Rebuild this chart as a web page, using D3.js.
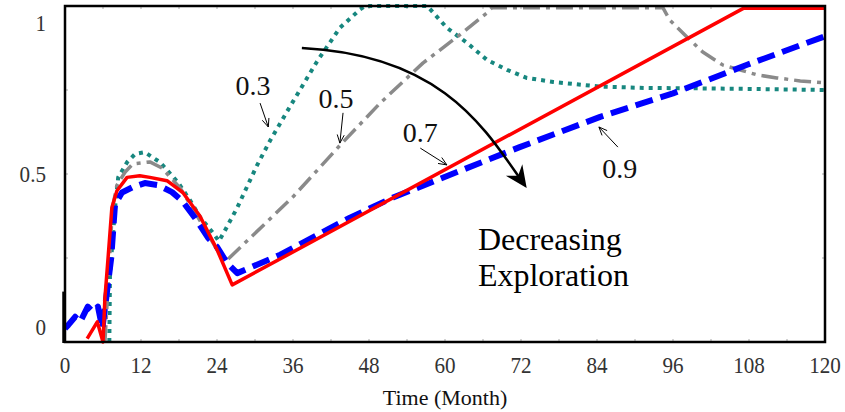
<!DOCTYPE html>
<html>
<head>
<meta charset="utf-8">
<script src="https://cdn.jsdelivr.net/npm/d3@7"></script>
<style>
  body { margin: 0; background: #fff; }
  svg { display: block; }
</style>
</head>
<body>
<svg id="chart" width="845" height="412"></svg>
<script>
// Exploration level 0.3 (teal dotted)
const exp03Months = [7.0, 7.1, 7.9, 8.4, 9.8, 11.1, 12.6, 15.0, 17.8, 19.7, 21.3, 23.4, 24.3, 25.2, 27.2, 30.3, 32.4, 35.5, 39.8, 43.4, 46.6, 47.4, 57.2, 60.3, 63.5, 66.6, 69.8, 72.9, 77.1, 84.5, 91.9, 99.8, 108.6, 120];
const exp03Values = [0.0, 0.2, 0.40, 0.49, 0.535, 0.56, 0.565, 0.535, 0.476, 0.423, 0.372, 0.324, 0.30, 0.33, 0.40, 0.525, 0.60, 0.70, 0.835, 0.935, 0.99, 1.0, 1.0, 0.935, 0.89, 0.84, 0.81, 0.786, 0.774, 0.76, 0.756, 0.755, 0.753, 0.75];

// Exploration level 0.5 (gray dash-dot)
const exp05Months = [6.3, 6.9, 7.5, 8.2, 9.5, 10.7, 13.4, 15.3, 18.2, 20.5, 22.9, 24.5, 25.6, 36.0, 43.4, 49.7, 56.5, 61.9, 66.6, 67.4, 94.4, 95.5, 98.2, 100.7, 103.9, 109.3, 112.4, 116.1, 120];
const exp05Values = [0.0, 0.2, 0.4, 0.467, 0.506, 0.53, 0.536, 0.518, 0.458, 0.387, 0.31, 0.259, 0.244, 0.432, 0.585, 0.71, 0.83, 0.908, 0.979, 0.995, 0.995, 0.958, 0.908, 0.863, 0.824, 0.795, 0.786, 0.777, 0.771];

// Exploration level 0.7 (red solid)
const exp07Months = [3.5, 5.1, 6.0, 6.3, 6.8, 7.4, 8.2, 9.8, 11.8, 13.4, 16.1, 18.6, 21.3, 24.0, 26.4, 107.1, 120];
const exp07Values = [0.01, 0.06, 0.0, 0.13, 0.25, 0.40, 0.45, 0.49, 0.495, 0.49, 0.48, 0.445, 0.375, 0.275, 0.17, 0.993, 0.993];

// Exploration level 0.9 (blue dashed)
const exp09Months = [0, 0.5, 1.6, 2.4, 3.6, 4.4, 5.2, 5.9, 6.5, 7.3, 7.9, 9.0, 10.6, 12.6, 14.7, 16.9, 18.5, 20.5, 22.6, 24.0, 25.6, 27.2, 34.0, 45.0, 51.8, 71.8, 84.5, 96.0, 107.7, 120];
const exp09Values = [0.04, 0.05, 0.075, 0.06, 0.105, 0.09, 0.105, 0.04, 0.13, 0.25, 0.41, 0.445, 0.46, 0.473, 0.467, 0.446, 0.42, 0.37, 0.31, 0.283, 0.235, 0.205, 0.26, 0.37, 0.43, 0.58, 0.67, 0.74, 0.825, 0.91];

// Axis labels and ticks
const monthTicks = [0, 12, 24, 36, 48, 60, 72, 84, 96, 108, 120];
const valueTicks = [0, 0.5, 1];
const xTitle = "Time (Month)";

// Series labels with pointer arrows (month, value)
const seriesLabels = ["0.3", "0.5", "0.7", "0.9"];
const labelAt = [[29.7, 0.765], [42.8, 0.726], [56.1, 0.625], [87.6, 0.518]];
const pointerFrom = [[30.8, 0.711], [43.9, 0.682], [56.1, 0.577], [87.3, 0.580]];
const pointerTo = [[32.1, 0.640], [43.4, 0.592], [60.3, 0.527], [84.3, 0.640]];

const trendText = ["Decreasing", "Exploration"];

const svg = d3.select("#chart");
const plotLeft = 65, plotRight = 825, plotTop = 6, plotBottom = 342;

const x = d3.scaleLinear().domain([0, 120]).range([plotLeft, plotRight]);
const y = d3.scaleLinear().domain([0, 1]).range([plotBottom, plotTop]);

const series = [
  { months: exp03Months, values: exp03Values, color: "#17877f", width: 4, dash: "4,5" },
  { months: exp05Months, values: exp05Values, color: "#8a8a8a", width: 3.5, dash: "17,6,4,6" },
  { months: exp09Months, values: exp09Values, color: "#0000ff", width: 6, dash: "18,8" },
  { months: exp07Months, values: exp07Values, color: "#ff0000", width: 3.5, dash: null }
];

const line = d3.line().x(d => x(d[0])).y(d => y(d[1])).curve(d3.curveLinear);

// plot background
svg.append("rect").attr("x", plotLeft).attr("y", plotTop)
  .attr("width", plotRight - plotLeft).attr("height", plotBottom - plotTop).attr("fill", "#fff");

// small inside tick marks every 6 months and every 0.25
const minorMonths = d3.range(6, 120, 6);
const minorValues = [0.25, 0.5, 0.75];
const tickG = svg.append("g").attr("stroke", "#b8b8b8").attr("stroke-width", 1.2);
minorMonths.forEach(m => {
  tickG.append("line").attr("x1", x(m)).attr("x2", x(m)).attr("y1", plotBottom).attr("y2", plotBottom - 3);
  tickG.append("line").attr("x1", x(m)).attr("x2", x(m)).attr("y1", plotTop).attr("y2", plotTop + 3);
});
minorValues.forEach(v => {
  tickG.append("line").attr("x1", plotLeft).attr("x2", plotLeft + 3).attr("y1", y(v)).attr("y2", y(v));
  tickG.append("line").attr("x1", plotRight).attr("x2", plotRight - 3).attr("y1", y(v)).attr("y2", y(v));
});

// series lines
series.forEach(s => {
  const pts = s.months.map((m, i) => [m, s.values[i]]);
  svg.append("path")
    .attr("d", line(pts))
    .attr("fill", "none")
    .attr("stroke", s.color)
    .attr("stroke-width", s.width)
    .attr("stroke-dasharray", s.dash)
    .attr("stroke-linejoin", "round");
});

// frame
svg.append("rect").attr("x", plotLeft).attr("y", plotTop)
  .attr("width", plotRight - plotLeft).attr("height", plotBottom - plotTop)
  .attr("fill", "none").attr("stroke", "#000").attr("stroke-width", 2.5);
svg.append("line").attr("x1", plotLeft - 1.5).attr("x2", plotLeft - 1.5)
  .attr("y1", y(0.15)).attr("y2", plotBottom + 1)
  .attr("stroke", "#000").attr("stroke-width", 2.5);

// tick labels use a slightly condensed serif face
const tickFont = "Liberation Serif, Times New Roman, serif";

// x tick labels
svg.append("g").selectAll("text").data(monthTicks).join("text")
  .attr("transform", d => `translate(${x(d)},373) scale(0.88,1)`)
  .attr("text-anchor", "middle")
  .attr("font-family", tickFont)
  .attr("font-size", 24)
  .attr("fill", "#333")
  .text(d => d);

// y tick labels: end labels sit inside the axis span
svg.append("g").selectAll("text").data(valueTicks).join("text")
  .attr("transform", d => `translate(46,${Math.min(Math.max(y(d), plotTop + 17), plotBottom - 15) + 8}) scale(0.88,1)`)
  .attr("text-anchor", "end")
  .attr("font-family", tickFont)
  .attr("font-size", 24)
  .attr("fill", "#333")
  .text(d => d);

// x axis title
svg.append("text").attr("x", (plotLeft + plotRight) / 2).attr("y", 405)
  .attr("text-anchor", "middle")
  .attr("font-family", "Liberation Serif, Times New Roman, serif")
  .attr("font-size", 22).attr("fill", "#111")
  .text(xTitle);

// series labels with small open-headed pointers
const ann = svg.append("g");
seriesLabels.forEach((lab, i) => {
  ann.append("text")
    .attr("x", x(labelAt[i][0])).attr("y", y(labelAt[i][1]) + 10)
    .attr("text-anchor", "middle")
    .attr("font-family", "Liberation Serif, Times New Roman, serif")
    .attr("font-size", 28).attr("fill", "#111")
    .text(lab);
  const x1 = x(pointerFrom[i][0]), y1 = y(pointerFrom[i][1]);
  const x2 = x(pointerTo[i][0]), y2 = y(pointerTo[i][1]);
  ann.append("line").attr("x1", x1).attr("y1", y1).attr("x2", x2).attr("y2", y2)
    .attr("stroke", "#000").attr("stroke-width", 1);
  const ang = Math.atan2(y2 - y1, x2 - x1);
  [0.4, -0.4].forEach(a => {
    ann.append("line")
      .attr("x1", x2).attr("y1", y2)
      .attr("x2", x2 - 9 * Math.cos(ang + a)).attr("y2", y2 - 9 * Math.sin(ang + a))
      .attr("stroke", "#000").attr("stroke-width", 1);
  });
});

// curved trend arrow
const arrowStart = [37.4, 0.875], arrowC1 = [59.2, 0.854], arrowC2 = [66.6, 0.628], arrowEnd = [72.9, 0.458];
const P0 = [x(arrowStart[0]), y(arrowStart[1])];
const P1 = [x(arrowC1[0]), y(arrowC1[1])];
const P2 = [x(arrowC2[0]), y(arrowC2[1])];
const P3 = [x(arrowEnd[0]), y(arrowEnd[1])];
const adx = P3[0] - P2[0], ady = P3[1] - P2[1];
const alen = Math.hypot(adx, ady);
const ux = adx / alen, uy = ady / alen, nx = -uy, ny = ux;
const stopPt = [P3[0] - 10 * ux, P3[1] - 10 * uy];
const arrowPath = d3.path();
arrowPath.moveTo(P0[0], P0[1]);
arrowPath.bezierCurveTo(P1[0], P1[1], P2[0] - 6 * ux, P2[1] - 6 * uy, stopPt[0], stopPt[1]);
svg.append("path").attr("d", arrowPath.toString())
  .attr("fill", "none").attr("stroke", "#000").attr("stroke-width", 2.5);
const headLen = 22, headHalf = 10, notch = 7;
const head = [
  [P3[0], P3[1]],
  [P3[0] - headLen * ux + headHalf * nx, P3[1] - headLen * uy + headHalf * ny],
  [P3[0] - (headLen - notch) * ux, P3[1] - (headLen - notch) * uy],
  [P3[0] - headLen * ux - headHalf * nx, P3[1] - headLen * uy - headHalf * ny]
];
svg.append("path").attr("d", "M" + head.map(p => p.join(",")).join("L") + "Z").attr("fill", "#000");

// trend caption
svg.append("g").selectAll("text").data(trendText).join("text")
  .attr("x", x(65.2)).attr("y", (d, i) => y(0.274) + i * 36)
  .attr("font-family", "Liberation Serif, Times New Roman, serif")
  .attr("font-size", 32).attr("fill", "#000")
  .text(d => d);
</script>
</body>
</html>
